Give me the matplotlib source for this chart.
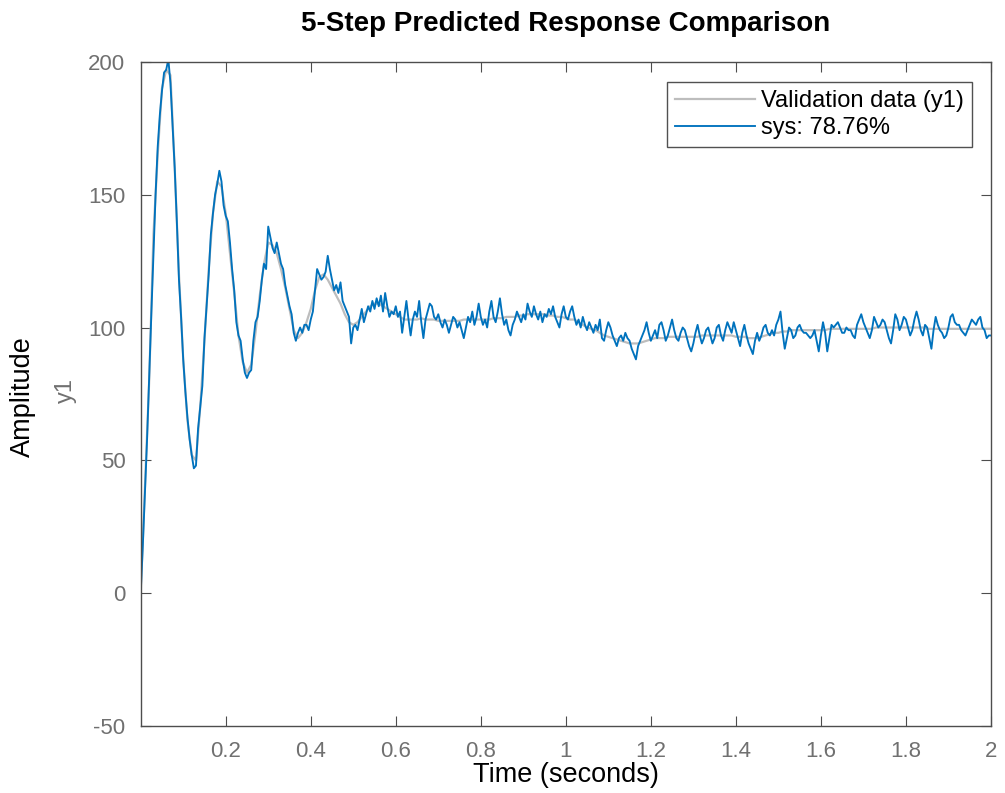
import numpy as np
import matplotlib

matplotlib.use('Agg')
import matplotlib.pyplot as plt

plt.rcParams['font.family'] = ['Liberation Sans', 'DejaVu Sans']
plt.rcParams['axes.unicode_minus'] = False

# validation data (y1), sampled every 0.01 s
Ts_val = 0.01
y_val = [
    0, 40, 80, 135, 165, 190, 197, 195, 160, 120,
    88, 65, 52, 50, 70, 95, 122, 143, 155, 153,
    143, 128, 113, 97, 87, 83, 86, 98, 112, 124,
    132, 131, 128, 122, 115, 107, 99, 96, 98, 102,
    107, 114, 119, 120, 118, 115, 112, 109, 105, 102,
    101, 102, 104, 106, 108, 109, 109, 108, 107, 106,
    105, 104, 103, 103, 103, 103, 103.5, 103, 103, 103,
    102.5, 102.5, 102.5, 102.5, 102.5, 102.5, 103, 103, 103, 103,
    103, 103, 103, 103.5, 103.5, 103.5, 104, 104, 104, 104.5,
    104.5, 105, 105, 105, 105, 105, 104.5, 104.5, 104, 104,
    103.5, 103, 103, 102, 101, 100, 99.5, 99, 98, 97,
    96.5, 96, 95.5, 95, 94.5, 94, 94, 94, 94.5, 95,
    95.5, 96, 96, 96, 96.5, 96.5, 96.5, 96.5, 96.5, 96.5,
    96.5, 96.5, 97, 97, 97, 97, 97, 97, 97, 97,
    96.5, 96.5, 96.5, 96, 96, 96, 96.5, 97, 97.5, 98,
    98, 98.5, 98.5, 99, 99, 99, 99, 99, 99, 99,
    99, 99, 99.5, 99.5, 99.5, 99.5, 99.5, 99.5, 99.5, 99.5,
    99.5, 99.5, 99.5, 100, 100, 100, 100, 100, 100, 100,
    100, 100, 100, 100, 100, 99.5, 99.5, 99.5, 99.5, 99.5,
    99.5, 99.5, 99.5, 99.5, 99.5, 99.5, 99.5, 99.5, 99.5, 99.5,
    99.5,
]

# 5-step predicted response of sys, sampled every 0.005 s
Ts_sys = 0.005
y_sys = [
    0, 18, 38, 58, 82, 105, 128, 150, 168, 180, 189, 196, 197, 201, 192, 176, 160, 140, 118, 104,
    88, 76, 66, 58, 52, 47, 48, 62, 70, 78, 96, 108, 120, 135, 143, 150, 154, 159, 155, 146,
    142, 140, 132, 122, 114, 102, 97, 95, 88, 83, 81, 83, 84, 95, 102, 104, 110, 118, 124, 122,
    138, 134, 130, 128, 132, 128, 124, 122, 116, 112, 108, 105, 98, 95, 98, 100, 98, 101, 101, 99,
    103, 106, 114, 122, 120, 118, 119, 121, 127, 122, 118, 114, 116, 113, 117, 110, 108, 106, 104, 94,
    100, 101, 99, 103, 107, 102, 105, 108, 106, 110, 107, 111, 108, 112, 106, 113, 108, 104, 106, 105,
    108, 104, 106, 98, 104, 110, 103, 97, 103, 106, 104, 110, 102, 96, 103, 106, 109, 108, 104, 103,
    105, 102, 100, 103, 101, 98, 101, 104, 103, 100, 102, 99, 96, 100, 104, 102, 106, 101, 104, 109,
    104, 101, 103, 100, 106, 110, 104, 102, 106, 111, 105, 101, 103, 99, 97, 101, 103, 106, 104, 102,
    105, 103, 109, 106, 104, 108, 105, 103, 106, 102, 105, 104, 107, 105, 108, 104, 102, 100, 105, 108,
    104, 103, 106, 108, 104, 101, 103, 100, 104, 101, 99, 102, 100, 98, 101, 99, 103, 96, 95, 99,
    102, 100, 97, 95, 93, 96, 97, 95, 98, 96, 95, 92, 90, 88, 93, 95, 97, 99, 102, 98,
    95, 97, 99, 96, 101, 102, 99, 95, 97, 100, 103, 99, 96, 95, 98, 100, 99, 96, 93, 91,
    94, 98, 101, 97, 94, 96, 99, 100, 97, 94, 96, 100, 101, 97, 95, 99, 102, 100, 98, 102,
    99, 96, 93, 98, 101, 97, 94, 92, 90, 95, 98, 95, 97, 100, 101, 98, 97, 99, 97, 101,
    103, 106, 98, 92, 96, 100, 99, 96, 97, 100, 101, 99, 98, 98, 97, 96, 97, 99, 95, 91,
    97, 102, 98, 91, 96, 101, 100, 101, 102, 100, 98, 98, 100, 99, 99, 97, 96, 101, 103, 105,
    102, 100, 98, 96, 99, 104, 102, 100, 101, 103, 102, 99, 96, 94, 99, 105, 103, 99, 101, 104,
    103, 100, 97, 99, 103, 106, 103, 99, 97, 101, 100, 96, 92, 99, 104, 101, 99, 98, 96, 97,
    100, 104, 105, 102, 101, 101, 99, 98, 97, 99, 101, 103, 102, 101, 103, 104, 100, 99, 96, 97,
    97,
]

legend_labels = ['Validation data (y1)', 'sys: 78.76%']
x_ticks = [0.2, 0.4, 0.6, 0.8, 1.0, 1.2, 1.4, 1.6, 1.8, 2.0]
x_tick_labels = ['0.2', '0.4', '0.6', '0.8', '1', '1.2', '1.4', '1.6', '1.8', '2']
y_ticks = [-50, 0, 50, 100, 150, 200]

t_val = np.arange(len(y_val)) * Ts_val
t_sys = np.arange(len(y_sys)) * Ts_sys

fig = plt.figure(figsize=(10.05, 7.93), dpi=100)
ax = fig.add_axes([0.140, 0.0845, 0.846, 0.8375])

ax.plot(t_val, y_val, color='#bdbdbd', lw=1.6, label=legend_labels[0])
ax.plot(t_sys, y_sys, color='#0072BD', lw=1.35, label=legend_labels[1])

ax.set_xlim(0, 2)
ax.set_ylim(-50, 200)
ax.set_xticks(x_ticks)
ax.set_xticklabels(x_tick_labels)
ax.set_yticks(y_ticks)

edge = '#4d4d4d'
for s in ax.spines.values():
    s.set_color(edge)
    s.set_linewidth(1.0)
ax.tick_params(direction='in', top=True, right=True, length=7, width=0.8,
               color=edge, labelcolor='#707070', labelsize=16, pad=11)

ax.set_title('5-Step Predicted Response Comparison', fontsize=20, fontweight='bold', pad=22)
ax.set_xlabel('Time (seconds)', fontsize=19.5, labelpad=0)
fig.text(0.023, 0.50, 'Amplitude', rotation=90, fontsize=19.5, ha='center', va='center')
fig.text(0.066, 0.508, 'y1', rotation=90, fontsize=17, color='#707070', ha='center', va='center')

leg = ax.legend(loc='upper right', bbox_to_anchor=(0.978, 0.97), fontsize=17, frameon=True,
                fancybox=False, handlelength=3.4, handletextpad=0.25, borderpad=0.35,
                labelspacing=0.2, borderaxespad=0)
leg.get_frame().set_edgecolor('#262626')
leg.get_frame().set_linewidth(1.0)

fig.savefig('out.png', dpi=100)
